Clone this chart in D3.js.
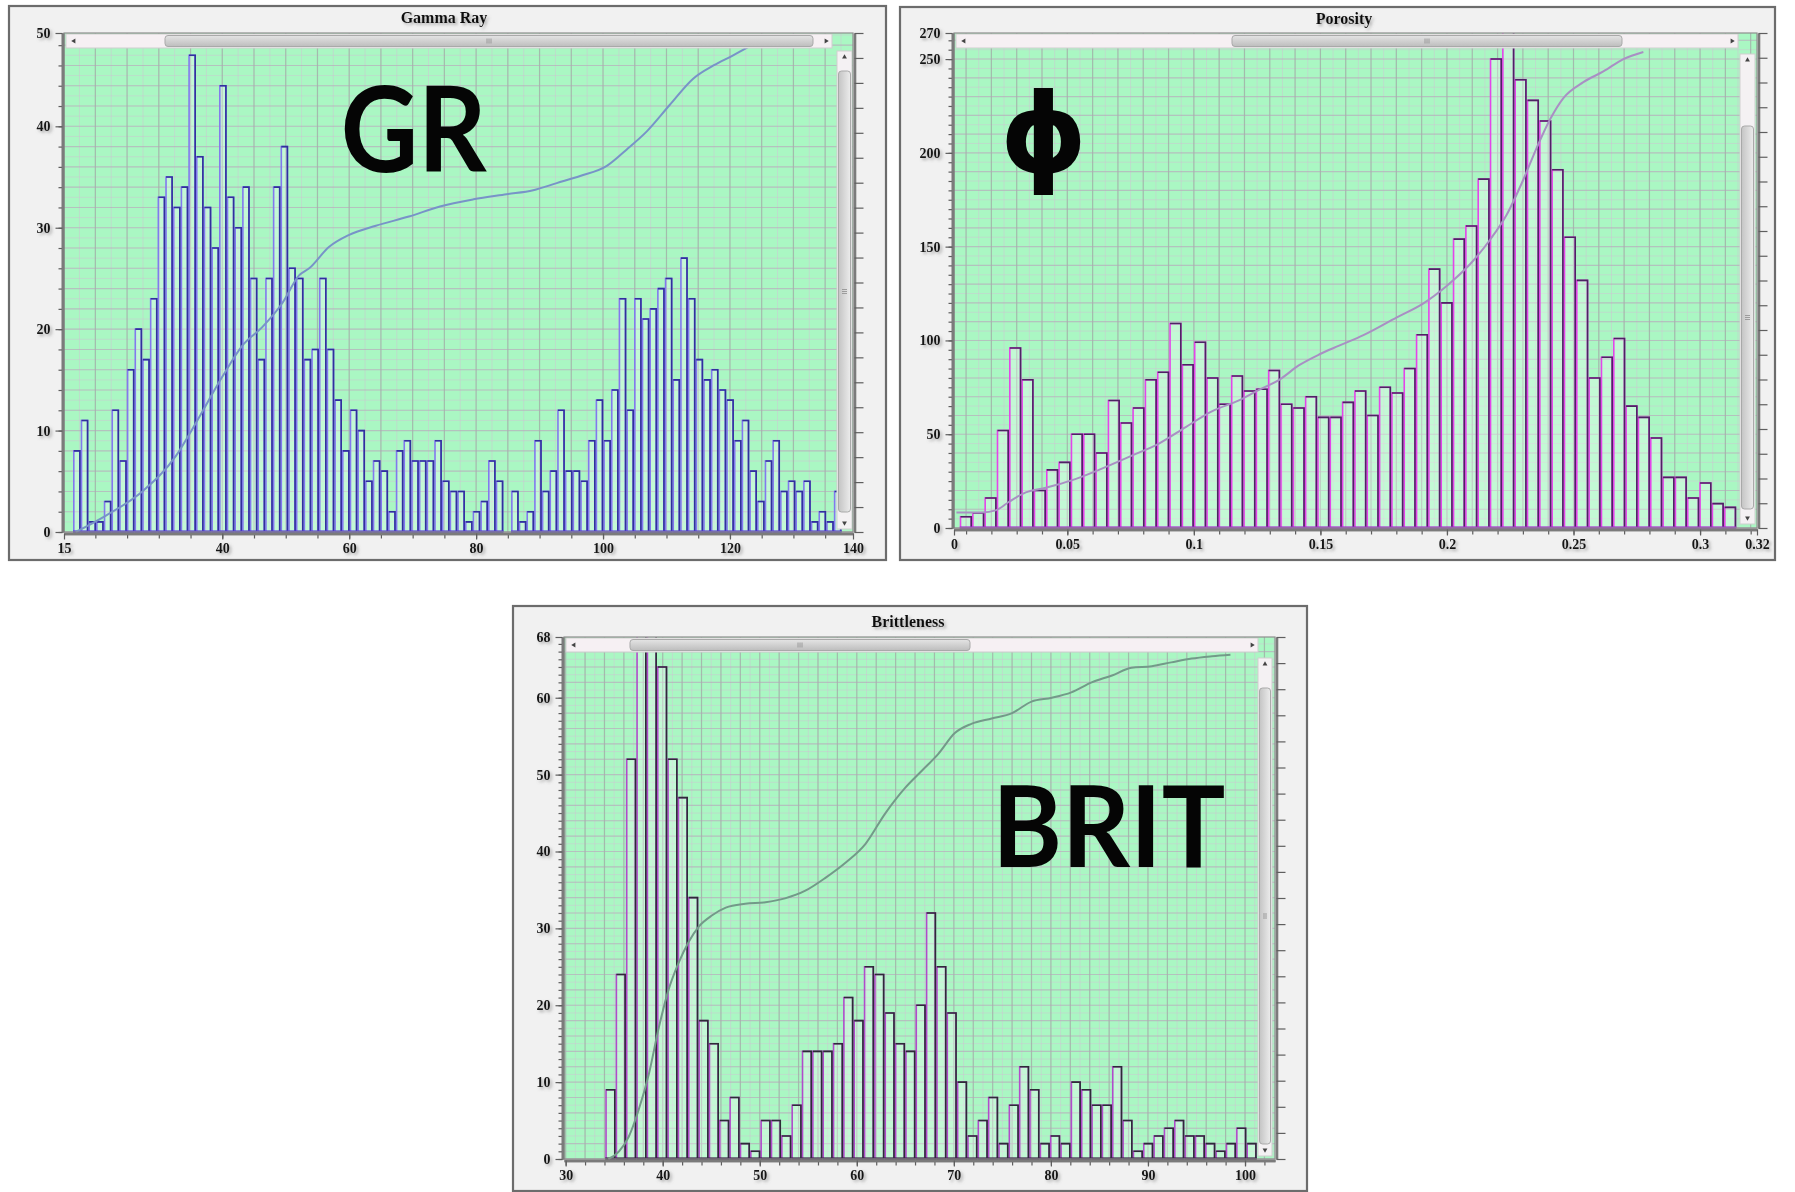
<!DOCTYPE html>
<html>
<head>
<meta charset="utf-8">
<script src="https://cdn.jsdelivr.net/npm/d3@7"></script>
<style>
  html, body { margin: 0; padding: 0; background: #ffffff; }
  svg { display: block; }
</style>
</head>
<body>
<svg id="chart" width="1795" height="1192"></svg>
<script>
// ---------------- Gamma Ray ----------------
const grBinStart = 16.48;
const grBinWidth = 1.211;
const grCounts = [
  8, 11, 1, 1, 3, 12, 7, 16, 20, 17,
  23, 33, 35, 32, 34, 47, 37, 32, 28, 44,
  33, 30, 34, 25, 17, 25, 34, 38, 26, 25,
  17, 18, 25, 18, 13, 8, 12, 10, 5, 7,
  6, 2, 8, 9, 7, 7, 7, 9, 5, 4,
  4, 1, 2, 3, 7, 5, 0, 4, 1, 2,
  9, 4, 6, 12, 6, 6, 5, 9, 13, 9,
  14, 23, 12, 23, 21, 22, 24, 25, 15, 27,
  23, 17, 15, 16, 14, 13, 9, 11, 6, 3,
  7, 9, 4, 5, 4, 5, 1, 2, 1, 4
];
// cumulative-frequency curve (GR value, plotted height)
const grCumulative = [
  [16.9, 0], [21.6, 1.6], [27.4, 4.0], [32.7, 7.5], [35.8, 10.7], [40, 15.3],
  [43.2, 18.4], [46.3, 20.2], [49.5, 22.6], [52.1, 25.3], [53.7, 26.0], [56.8, 28.1],
  [60, 29.3], [64.2, 30.2], [69.4, 31.1], [74.3, 32.1], [79.6, 32.8], [84.8, 33.3],
  [89, 33.7], [92.7, 34.4], [96.4, 35.1], [100.6, 36.1], [103.7, 37.7], [106.9, 39.5],
  [110.5, 42.1], [114.2, 44.7], [117.4, 46.0], [120.5, 47.0], [123.7, 48.1]
];
const grXTicks = [40, 60, 80, 100, 120];
const grXEndLabels = ["15", "140"];
const grYTicks = [0, 10, 20, 30, 40];
const grYTopLabel = "50";

// ---------------- Porosity ----------------
const phiBinStart = 0.00749;
const phiBinWidth = 0.00487;
const phiCounts = [
  6, 8, 16, 52, 96, 79, 20, 31, 35, 50,
  50, 40, 68, 56, 64, 79, 83, 109, 87, 99,
  80, 66, 81, 73, 74, 84, 66, 64, 70, 59,
  59, 67, 73, 60, 75, 72, 85, 103, 138, 120,
  154, 161, 186, 250, 265, 239, 228, 217, 191, 155,
  132, 80, 91, 101, 65, 59, 48, 27, 27, 16,
  24, 13, 11
];
const phiCumulative = [
  [0.0062, 8.3], [0.0164, 8.3], [0.0217, 9.4], [0.027, 14], [0.0336, 19], [0.0415, 21.5],
  [0.052, 25.5], [0.0625, 31], [0.0757, 38.7], [0.0862, 45], [0.0968, 53.8], [0.1073, 62.3],
  [0.1178, 68], [0.1257, 73.6], [0.1337, 79], [0.1416, 86.8], [0.1495, 92.5], [0.1574, 97.2],
  [0.167, 102.8], [0.1802, 112.3], [0.1907, 119.8], [0.2, 129.2], [0.2091, 140.6], [0.2171, 153.8],
  [0.2236, 167], [0.2302, 185.8], [0.2355, 202.8], [0.2408, 218], [0.246, 229.2], [0.2539, 237.7],
  [0.2618, 243.4], [0.2697, 250], [0.2776, 253.8]
];
const phiXTicks = [0.05, 0.1, 0.15, 0.2, 0.25, 0.3];
const phiXEndLabels = ["0", "0.32"];
const phiYTicks = [0, 50, 100, 150, 200, 250];
const phiYTopLabel = "270";

// ---------------- Brittleness ----------------
const britBinStart = 34.08;
const britBinWidth = 1.0655;
const britCounts = [
  9, 24, 52, 75, 72, 64, 52, 47, 34, 18,
  15, 5, 8, 2, 1, 5, 5, 3, 7, 14,
  14, 14, 15, 21, 18, 25, 24, 19, 15, 14,
  20, 32, 25, 19, 10, 3, 5, 8, 2, 7,
  12, 9, 2, 3, 2, 10, 9, 7, 7, 12,
  5, 1, 2, 3, 4, 5, 3, 3, 2, 1,
  2, 4, 2
];
const britCumulative = [
  [34.4, 0], [35.5, 1], [36.5, 2.9], [37.5, 6.3], [38.6, 11.2], [39.6, 17.1], [40.6, 22],
  [41.6, 25.4], [42.7, 28.3], [43.7, 30.2], [45.1, 31.7], [46.5, 32.7], [48.5, 33.2],
  [50.6, 33.4], [52.6, 33.9], [54.7, 34.9], [56.8, 36.6], [58.8, 38.5], [60.9, 41],
  [62.9, 44.9], [65, 48.3], [66.7, 50.5], [68.4, 52.7], [70.1, 55.4], [71.8, 56.6],
  [73.9, 57.3], [76, 58], [78, 59.5], [80.1, 60], [82.1, 60.7], [84.2, 62], [86.3, 62.9],
  [88.3, 63.9], [90.4, 64.1], [92.4, 64.6], [94.5, 65.1], [96.6, 65.4], [98.5, 65.6]
];
const britXTicks = [30, 40, 50, 60, 70, 80, 90, 100];
const britYTicks = [0, 10, 20, 30, 40, 50, 60];
const britYTopLabel = "68";

// ---------------- drawing ----------------
const svg = d3.select("#chart");
const defs = svg.append("defs");

const shadow = defs.append("filter").attr("id", "softShadow")
  .attr("x", "-40%").attr("y", "-40%").attr("width", "200%").attr("height", "200%");
shadow.append("feDropShadow").attr("dx", 2).attr("dy", 2).attr("stdDeviation", 1.6)
  .attr("flood-color", "#6f6f6f").attr("flood-opacity", 0.55);

const thumbGradH = defs.append("linearGradient").attr("id", "thumbH").attr("x1", 0).attr("y1", 0).attr("x2", 0).attr("y2", 1);
thumbGradH.append("stop").attr("offset", "0%").attr("stop-color", "#e4e4e4");
thumbGradH.append("stop").attr("offset", "100%").attr("stop-color", "#bdbdbd");
const thumbGradV = defs.append("linearGradient").attr("id", "thumbV").attr("x1", 0).attr("y1", 0).attr("x2", 1).attr("y2", 0);
thumbGradV.append("stop").attr("offset", "0%").attr("stop-color", "#c4c4c4");
thumbGradV.append("stop").attr("offset", "100%").attr("stop-color", "#ececec");

const SERIF = "'Liberation Serif', 'Times New Roman', serif";

function steps(a, b, s) {
  const k0 = Math.ceil(a / s - 1e-6), k1 = Math.floor(b / s + 1e-6);
  return d3.range(k0, k1 + 1).map(k => +(k * s).toFixed(6));
}

function drawPanel(p) {
  const P = p.plot;
  const x = d3.scaleLinear().domain(p.xDomain).range([P.left, P.right]);
  const y = d3.scaleLinear().domain(p.yDomain).range([P.bottom, P.top]);
  const g = svg.append("g").attr("class", "panel " + p.id);

  // panel frame and title
  g.append("rect")
    .attr("x", p.frame[0]).attr("y", p.frame[1])
    .attr("width", p.frame[2]).attr("height", p.frame[3])
    .attr("fill", "#f1f1f1").attr("stroke", "#6c6c6c").attr("stroke-width", 2.2);
  g.append("text")
    .attr("x", p.title.x).attr("y", p.title.y)
    .attr("text-anchor", "middle")
    .attr("font-family", SERIF).attr("font-weight", "bold").attr("font-size", 16)
    .attr("fill", "#111").attr("filter", "url(#softShadow)")
    .text(p.title.text);

  // plot area
  const clipId = p.id + "-clip";
  defs.append("clipPath").attr("id", clipId).append("rect")
    .attr("x", P.left).attr("y", P.top)
    .attr("width", P.right - P.left).attr("height", P.bottom - P.top + 2);

  g.append("rect")
    .attr("x", P.left).attr("y", P.top)
    .attr("width", P.right - P.left).attr("height", P.bottom - P.top)
    .attr("fill", "#aaf7c3");

  const grid = g.append("g").attr("clip-path", `url(#${clipId})`);
  const [x0d, x1d] = p.xDomain, [y0d, y1d] = p.yDomain;
  grid.selectAll("line.vminor").data(steps(x0d, x1d, p.grid.vMinor)).join("line")
    .attr("x1", d => x(d)).attr("x2", d => x(d)).attr("y1", P.top).attr("y2", P.bottom)
    .attr("stroke", "#d7b9d6").attr("stroke-opacity", 0.4).attr("stroke-width", 1);
  grid.selectAll("line.hminor").data(steps(y0d, y1d, p.grid.hMinor)).join("line")
    .attr("y1", d => y(d)).attr("y2", d => y(d)).attr("x1", P.left).attr("x2", P.right)
    .attr("stroke", "#d7b9d6").attr("stroke-opacity", 0.4).attr("stroke-width", 1);
  grid.selectAll("line.vmajor").data(steps(x0d, x1d, p.grid.vMajor)).join("line")
    .attr("x1", d => x(d)).attr("x2", d => x(d)).attr("y1", P.top).attr("y2", P.bottom)
    .attr("stroke", "#98ad9f").attr("stroke-opacity", 0.7).attr("stroke-width", 1.2);
  grid.selectAll("line.hmajor").data(steps(y0d, y1d, p.grid.hMajor)).join("line")
    .attr("y1", d => y(d)).attr("y2", d => y(d)).attr("x1", P.left).attr("x2", P.right)
    .attr("stroke", "#aeaab4").attr("stroke-opacity", 0.55).attr("stroke-width", 1.1);

  // big label
  const lab = g.append("text")
    .attr("x", p.label.x).attr("y", p.label.y)
    .attr("font-family", p.label.font).attr("font-weight", "bold")
    .attr("font-size", p.label.size).attr("fill", "#050505")
    .text(p.label.text);
  if (p.label.width) lab.attr("textLength", p.label.width).attr("lengthAdjust", "spacingAndGlyphs");

  // histogram bars: light left edge, dark top/right edge, heavy base
  const bins = p.counts.map((c, i) => ({
    c, a: p.binStart + i * p.binWidth, b: p.binStart + (i + 1) * p.binWidth
  })).filter(d => d.c > 0);
  const bars = g.append("g").attr("clip-path", `url(#${clipId})`);
  bars.selectAll("rect").data(bins).join("rect")
    .attr("x", d => x(d.a) + 0.8).attr("y", d => y(d.c))
    .attr("width", d => x(d.b) - x(d.a) - 1.6).attr("height", d => y(0) - y(d.c))
    .attr("fill", "#ffffff").attr("fill-opacity", 0.3)
    .attr("stroke", p.colors.light).attr("stroke-width", 1.6);
  bars.selectAll("path.edge").data(bins).join("path").attr("class", "edge")
    .attr("d", d => `M${x(d.a) + 0.8},${y(d.c)}H${x(d.b) - 0.8}V${y(0)}`)
    .attr("fill", "none").attr("stroke", p.colors.dark).attr("stroke-width", 1.6);
  bars.selectAll("line.base").data(bins).join("line").attr("class", "base")
    .attr("x1", d => x(d.a)).attr("x2", d => x(d.b))
    .attr("y1", y(0)).attr("y2", y(0))
    .attr("stroke", p.colors.base).attr("stroke-width", 3.2);

  // cumulative curve
  const line = d3.line().x(d => x(d[0])).y(d => y(d[1])).curve(d3.curveMonotoneX);
  g.append("path").attr("clip-path", `url(#${clipId})`)
    .attr("d", line(p.curve))
    .attr("fill", "none").attr("stroke", p.colors.curve).attr("stroke-width", 2);

  // horizontal scrollbar
  const H = p.hScroll, V = p.vScroll;
  g.append("rect").attr("x", H.x0).attr("y", P.top + 1).attr("width", H.x1 - H.x0).attr("height", 14)
    .attr("fill", "#f6f0f3").attr("stroke", "#cfcfcf").attr("stroke-width", 1);
  g.append("rect").attr("x", H.t0).attr("y", P.top + 2.5).attr("width", H.t1 - H.t0).attr("height", 11)
    .attr("rx", 3).attr("fill", "url(#thumbH)").attr("stroke", "#a9a9a9").attr("stroke-width", 1);
  const hMid = (H.t0 + H.t1) / 2;
  [-2, 0, 2].forEach(o => g.append("line")
    .attr("x1", hMid + o).attr("x2", hMid + o).attr("y1", P.top + 5.5).attr("y2", P.top + 10.5)
    .attr("stroke", "#8d8d8d").attr("stroke-width", 0.8));
  g.append("path").attr("d", d3.symbol(d3.symbolTriangle, 10)())
    .attr("transform", `translate(${H.x0 + 8},${P.top + 8}) rotate(-90)`).attr("fill", "#444");
  g.append("path").attr("d", d3.symbol(d3.symbolTriangle, 10)())
    .attr("transform", `translate(${H.x1 - 6},${P.top + 8}) rotate(90)`).attr("fill", "#444");

  // vertical scrollbar
  g.append("rect").attr("x", V.x0).attr("y", V.y0).attr("width", V.x1 - V.x0).attr("height", V.y1 - V.y0)
    .attr("fill", "#f4f1f3").attr("stroke", "#cfcfcf").attr("stroke-width", 1);
  g.append("rect").attr("x", V.x0 + 1.5).attr("y", V.t0).attr("width", V.x1 - V.x0 - 3).attr("height", V.t1 - V.t0)
    .attr("rx", 3).attr("fill", "url(#thumbV)").attr("stroke", "#a9a9a9").attr("stroke-width", 1);
  const vMid = (V.t0 + V.t1) / 2;
  [-2, 0, 2].forEach(o => g.append("line")
    .attr("y1", vMid + o).attr("y2", vMid + o).attr("x1", V.x0 + 5).attr("x2", V.x1 - 5)
    .attr("stroke", "#8d8d8d").attr("stroke-width", 0.8));
  g.append("path").attr("d", d3.symbol(d3.symbolTriangle, 10)())
    .attr("transform", `translate(${(V.x0 + V.x1) / 2},${V.y0 + 6})`).attr("fill", "#444");
  g.append("path").attr("d", d3.symbol(d3.symbolTriangle, 10)())
    .attr("transform", `translate(${(V.x0 + V.x1) / 2},${V.y1 - 6}) rotate(180)`).attr("fill", "#444");

  // plot border
  g.append("rect")
    .attr("x", P.left).attr("y", P.top)
    .attr("width", P.right - P.left).attr("height", P.bottom - P.top)
    .attr("fill", "none").attr("stroke", "#8e8e8e").attr("stroke-width", 1.2);

  // axes
  function styleAxis(sel) {
    sel.attr("font-family", SERIF).attr("font-weight", "bold").attr("font-size", 14);
    sel.select(".domain").attr("stroke", "#7b7b7b").attr("stroke-width", 2.6);
    sel.selectAll(".tick line").attr("stroke", "#5e5e5e").attr("stroke-width", 1.2);
    sel.selectAll(".tick text").attr("fill", "#151515").attr("filter", "url(#softShadow)");
  }

  const yTop = p.yDomain[1];
  const yAxis = d3.axisLeft(y)
    .tickValues(p.yTicks.concat([yTop]))
    .tickSize(7).tickSizeOuter(0).tickPadding(5)
    .tickFormat(d => d === yTop ? p.yTopLabel : d3.format("")(d));
  g.append("g").attr("transform", `translate(${P.left - 1.5},0)`)
    .call(d3.axisLeft(y).tickValues(steps(y0d, y1d, p.yMinor)).tickSize(4).tickSizeOuter(0).tickFormat(""))
    .call(styleAxis);
  g.append("g").attr("transform", `translate(${P.left - 1.5},0)`).call(yAxis).call(styleAxis);

  // right-hand percentage axis: 20 equal divisions
  g.append("g").attr("transform", `translate(${P.right + 1.5},0)`)
    .call(d3.axisRight(y).tickValues(d3.range(21).map(k => yTop * k / 20)).tickSize(9).tickSizeOuter(0).tickFormat(""))
    .call(styleAxis);

  const xVals = p.xEndLabels ? [x0d].concat(p.xTicks, [x1d]) : p.xTicks;
  const xAxis = d3.axisBottom(x)
    .tickValues(xVals)
    .tickSize(6).tickSizeOuter(0).tickPadding(4)
    .tickFormat(d => {
      if (p.xEndLabels && d === x0d) return p.xEndLabels[0];
      if (p.xEndLabels && d === x1d) return p.xEndLabels[1];
      return d3.format("")(d);
    });
  g.append("g").attr("transform", `translate(0,${P.bottom + 1.5})`)
    .call(d3.axisBottom(x).tickValues(steps(x0d, x1d, p.xMinor)).tickSize(5).tickSizeOuter(0).tickFormat(""))
    .call(styleAxis);
  g.append("g").attr("transform", `translate(0,${P.bottom + 1.5})`).call(xAxis).call(styleAxis);
}

drawPanel({
  id: "gr",
  frame: [9, 6, 877, 554],
  title: { text: "Gamma Ray", x: 444, y: 22.5 },
  plot: { left: 64, top: 33, right: 853, bottom: 532 },
  xDomain: [15.06, 139.39], yDomain: [0, 49.2],
  grid: { vMajor: 5, vMinor: 2.5, hMajor: 2, hMinor: 1 },
  xMinor: 5, yMinor: 2,
  counts: grCounts, binStart: grBinStart, binWidth: grBinWidth, curve: grCumulative,
  xTicks: grXTicks, xEndLabels: grXEndLabels, yTicks: grYTicks, yTopLabel: grYTopLabel,
  colors: { light: "#8279ee", dark: "#30309c", base: "#5a42d4", curve: "#7893c8" },
  label: { text: "GR", x: 340.7, y: 172.4, size: 118.6, width: 146, font: "Lato, 'Open Sans', sans-serif" },
  hScroll: { x0: 66, x1: 832, t0: 165, t1: 813 },
  vScroll: { x0: 837, x1: 852, y0: 51, y1: 529, t0: 71, t1: 512 }
});

drawPanel({
  id: "phi",
  frame: [900, 7, 875, 553],
  title: { text: "Porosity", x: 1344, y: 23.5 },
  plot: { left: 954, top: 33, right: 1757, bottom: 528 },
  xDomain: [0.00523, 0.3225], yDomain: [0, 263.9],
  grid: { vMajor: 0.01, vMinor: 0.005, hMajor: 10, hMinor: 5 },
  xMinor: 0.01, yMinor: 5,
  counts: phiCounts, binStart: phiBinStart, binWidth: phiBinWidth, curve: phiCumulative,
  xTicks: phiXTicks, xEndLabels: phiXEndLabels, yTicks: phiYTicks, yTopLabel: phiYTopLabel,
  colors: { light: "#e445ea", dark: "#4c2462", base: "#a532d2", curve: "#a98fc4" },
  label: { text: "ϕ", x: 1000, y: 172, size: 110, font: "'DejaVu Sans', sans-serif" },
  hScroll: { x0: 956, x1: 1738, t0: 1232, t1: 1622 },
  vScroll: { x0: 1740, x1: 1755, y0: 54, y1: 524, t0: 126, t1: 509 }
});

drawPanel({
  id: "brit",
  frame: [513, 606, 794, 585],
  title: { text: "Brittleness", x: 908, y: 627 },
  plot: { left: 564, top: 637, right: 1275, bottom: 1159 },
  xDomain: [29.83, 103.09], yDomain: [0, 67.9],
  grid: { vMajor: 2, vMinor: 1, hMajor: 2, hMinor: 1 },
  xMinor: 2, yMinor: 1,
  counts: britCounts, binStart: britBinStart, binWidth: britBinWidth, curve: britCumulative,
  xTicks: britXTicks, xEndLabels: null, yTicks: britYTicks, yTopLabel: britYTopLabel,
  colors: { light: "#b04ccb", dark: "#2c2c36", base: "#3b2648", curve: "#739a89" },
  label: { text: "BRIT", x: 992.3, y: 866.5, size: 112.5, width: 233, font: "Lato, 'Open Sans', sans-serif" },
  hScroll: { x0: 566, x1: 1258, t0: 630, t1: 970 },
  vScroll: { x0: 1258, x1: 1272, y0: 658, y1: 1156, t0: 688, t1: 1144 }
});
</script>
</body>
</html>
